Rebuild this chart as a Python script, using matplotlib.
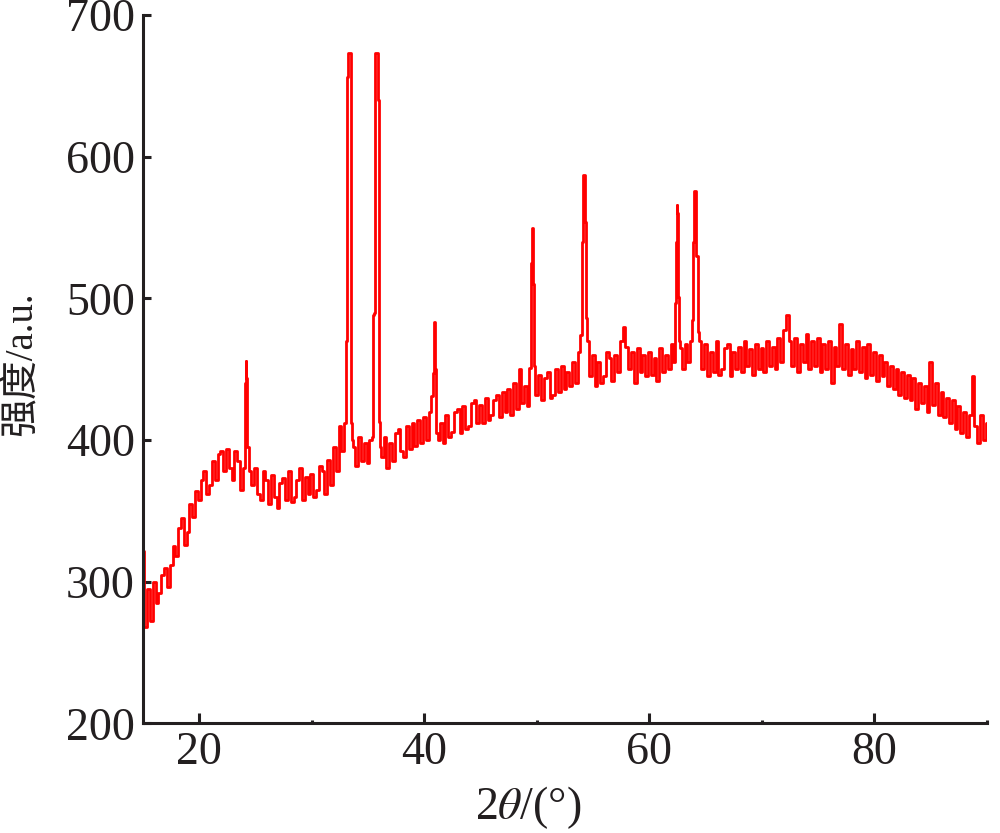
import matplotlib
matplotlib.use("Agg")
import matplotlib.pyplot as plt
import numpy as np

# 背景曲线, 每 0.25 度一个读数 (15 ~ 90)
base_start = 15.0
base_step = 0.25
base_y = [
    322, 268, 295, 272, 300, 285, 292, 305, 310, 296, 312, 325, 318, 338, 345, 326, 335, 355, 346, 364,
    358, 372, 378, 362, 368, 385, 372, 390, 392, 378, 394, 380, 372, 392, 385, 365, 380, 390, 378, 368,
    380, 362, 358, 378, 372, 355, 375, 360, 352, 370, 373, 358, 378, 356, 360, 372, 380, 358, 374, 362,
    376, 360, 365, 382, 378, 362, 386, 368, 395, 378, 410, 392, 412, 420, 420, 395, 382, 402, 385, 398,
    384, 400, 420, 420, 420, 388, 402, 380, 398, 385, 405, 408, 392, 388, 410, 394, 412, 396, 414, 398,
    416, 400, 420, 430, 430, 400, 412, 398, 418, 402, 406, 420, 422, 405, 424, 408, 410, 426, 428, 412,
    425, 412, 430, 414, 418, 428, 432, 416, 434, 420, 436, 418, 440, 422, 450, 426, 438, 424, 440, 440,
    432, 446, 428, 444, 448, 430, 432, 450, 434, 452, 436, 448, 438, 455, 440, 462, 470, 470, 470, 445,
    460, 438, 455, 440, 445, 462, 458, 442, 460, 448, 470, 480, 466, 450, 462, 440, 465, 448, 460, 445,
    462, 446, 458, 442, 465, 448, 460, 450, 468, 455, 470, 465, 450, 468, 455, 470, 470, 470, 470, 450,
    468, 445, 462, 448, 470, 446, 450, 465, 468, 445, 462, 450, 466, 448, 470, 452, 464, 446, 468, 450,
    465, 448, 470, 452, 466, 450, 472, 455, 478, 488, 470, 452, 472, 448, 468, 455, 475, 450, 470, 452,
    472, 448, 468, 450, 470, 440, 466, 452, 482, 450, 468, 446, 464, 450, 470, 448, 466, 444, 468, 446,
    462, 442, 460, 445, 455, 438, 452, 436, 450, 432, 448, 430, 446, 428, 444, 422, 440, 426, 438, 420,
    455, 425, 440, 418, 434, 416, 430, 412, 428, 408, 424, 405, 420, 402, 418, 445, 410, 398, 418, 400,
    412,
]

# 衍射峰
peak_x = [
    [24.05, 24.1, 24.15, 24.2, 24.25],
    [32.95, 33.05, 33.12, 33.18, 33.25, 33.42, 33.47, 33.54, 33.6],
    [35.42, 35.48, 35.56, 35.62, 35.83, 35.86, 35.94, 36.0, 36.08],
    [40.75, 40.82, 40.88, 40.95, 41.02, 41.1],
    [49.4, 49.5, 49.55, 49.62, 49.68, 49.75, 49.82, 49.9],
    [53.95, 54.05, 54.12, 54.2, 54.28, 54.35, 54.45],
    [62.3, 62.38, 62.45, 62.5, 62.58, 62.65],
    [63.85, 63.93, 64.0, 64.07, 64.15, 64.25, 64.35],
]
peak_y = [
    [392, 440, 456, 444, 395],
    [412, 470, 488, 656, 673, 673, 488, 412, 400],
    [402, 488, 490, 673, 673, 640, 640, 413, 395],
    [431, 447, 483, 483, 450, 405],
    [451, 525, 550, 550, 510, 470, 452, 432],
    [474, 540, 587, 587, 554, 554, 486],
    [497, 540, 566, 560, 501, 470],
    [485, 540, 576, 576, 530, 530, 476],
]

# 合并背景和峰
bx = base_start + base_step * np.arange(len(base_y))
by = np.array(base_y, dtype=float)
keep = np.ones(len(bx), dtype=bool)
for px in peak_x:
    keep &= ~((bx >= px[0]) & (bx <= px[-1]))
xs = np.concatenate([bx[keep]] + [np.array(p) for p in peak_x])
ys = np.concatenate([by[keep]] + [np.array(p, dtype=float) for p in peak_y])
order = np.argsort(xs)
xs, ys = xs[order], ys[order]

plt.rcParams['font.family'] = ['Liberation Serif', 'Noto Sans CJK SC']
plt.rcParams['mathtext.fontset'] = 'stix'

fig = plt.figure(figsize=(10, 8.33), dpi=100)
ax = fig.add_axes([0.143, 0.1315, 0.844, 0.8505])

ax.plot(xs, ys, color='#ff0000', lw=2.0, drawstyle='steps-mid')

ax.set_xlim(15, 90)
ax.set_ylim(200, 700)
ax.set_xticks([20, 40, 60, 80])
ax.set_xticks([30, 50, 70, 90], minor=True)
ax.set_yticks([200, 300, 400, 500, 600, 700])

ink = '#231f20'
for s in ['top', 'right']:
    ax.spines[s].set_visible(False)
for s in ['left', 'bottom']:
    ax.spines[s].set_linewidth(2.2)
    ax.spines[s].set_color(ink)

ax.tick_params(axis='x', which='major', direction='in', length=7, width=2.2,
               color=ink, labelsize=33, pad=6, labelcolor=ink)
ax.tick_params(axis='x', which='minor', direction='in', length=2.5, width=2.2, color=ink)
ax.tick_params(axis='y', which='major', direction='in', length=6, width=2.2,
               color=ink, labelsize=33, pad=6, labelcolor=ink)

fig.text(528 / 1000, 1 - 808 / 833, r'2$\theta$/(°)', fontsize=33, color=ink,
         ha='center', va='center')
fig.text(22 / 1000, 1 - 364 / 833, '强度/a.u.', fontsize=28, color=ink,
         ha='center', va='center', rotation=90)

fig.savefig('out.png', dpi=100)
